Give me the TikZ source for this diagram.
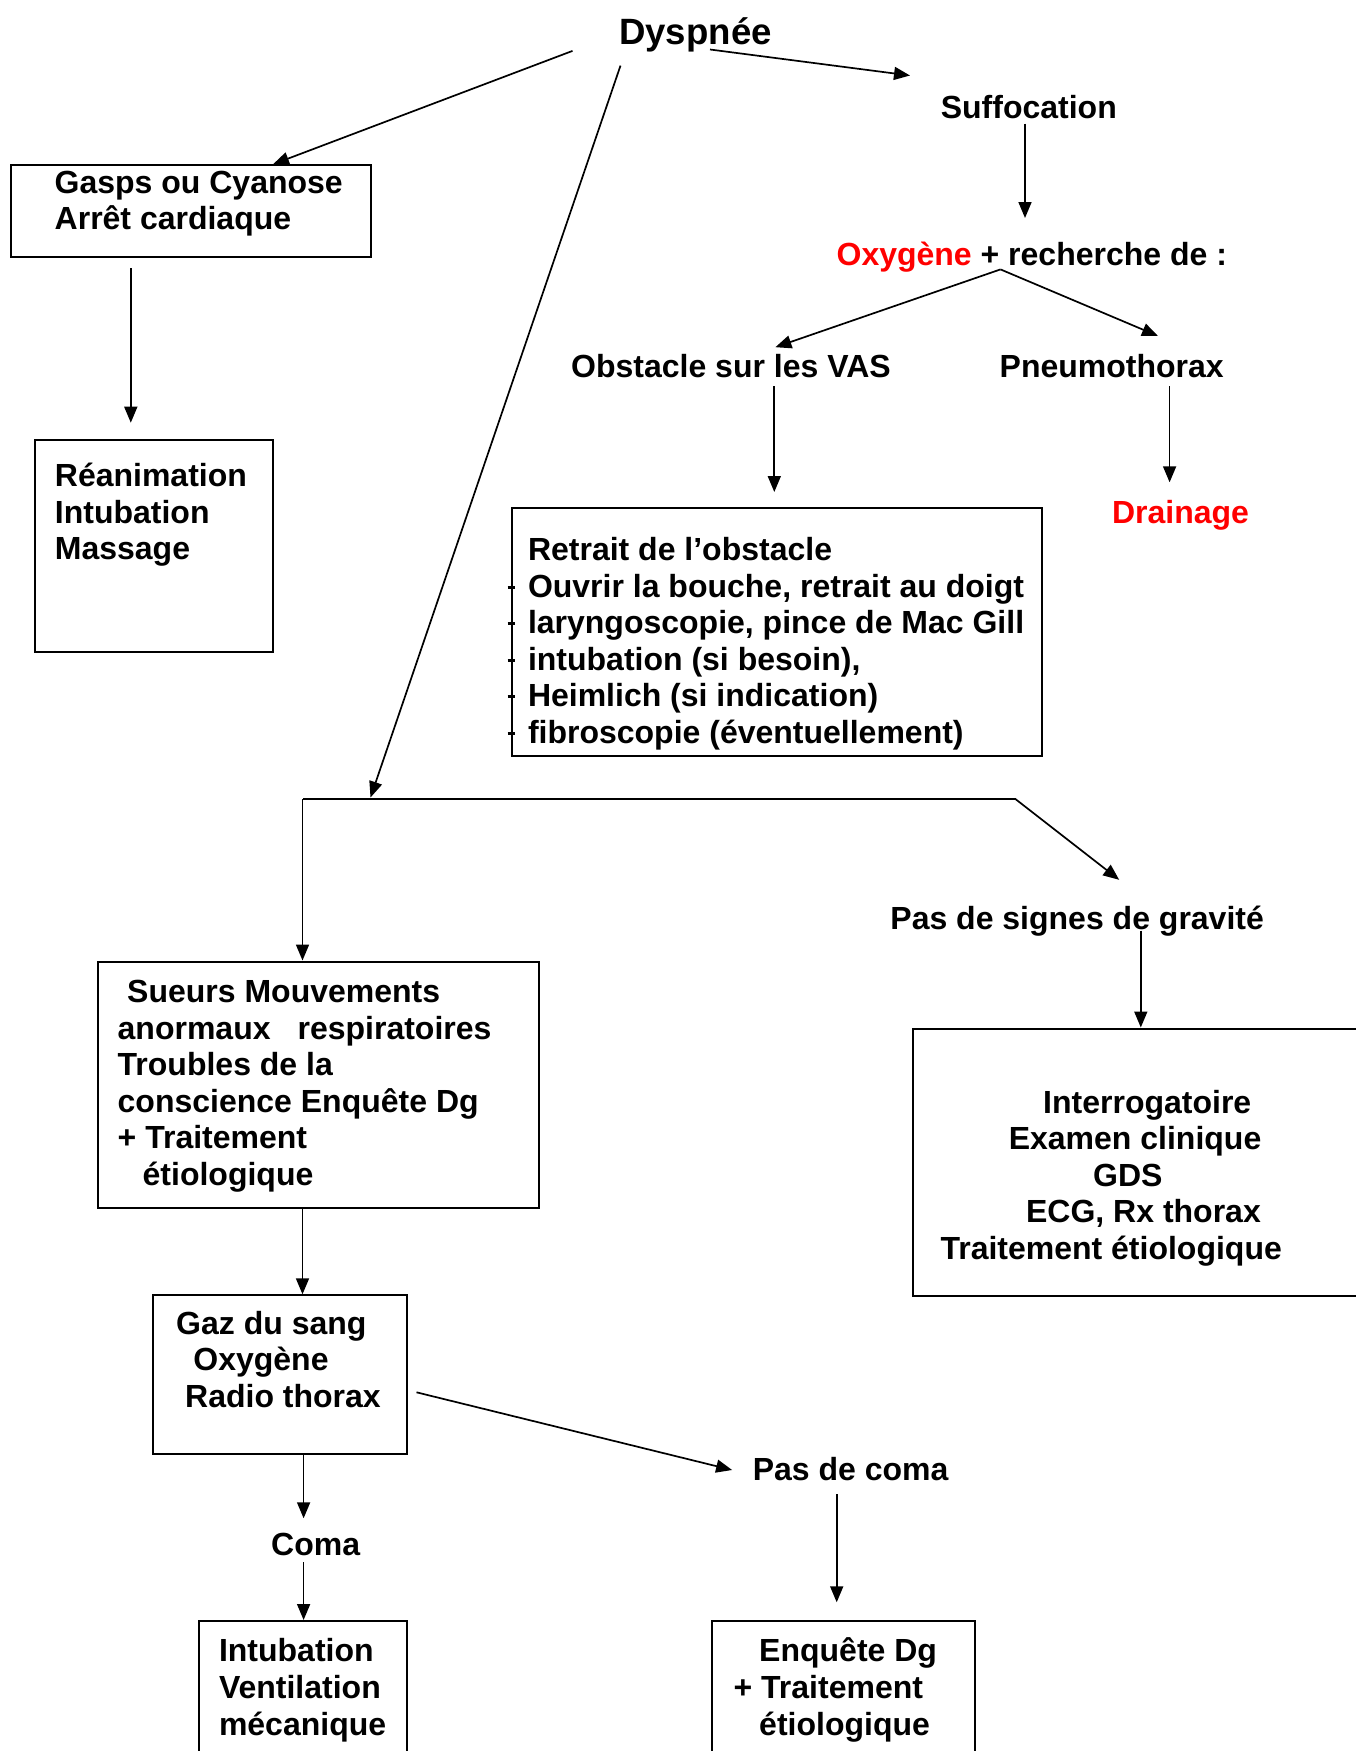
\documentclass[tikz,border=0pt]{standalone}
\usepackage{fontspec}
\setmainfont{Liberation Sans}
\usetikzlibrary{arrows.meta}
\begin{document}
\begin{tikzpicture}[x=1pt,y=-1pt,
  txt/.style={anchor=base west,inner sep=0pt,font=\bfseries\fontsize{32}{36.6}\selectfont,align=left},
  boxn/.style={draw,line width=2pt,inner sep=0pt,anchor=north west},
  conn/.style={line width=1.7pt},
  arr/.style={conn,-{Triangle[length=16pt,width=13pt]}},
  tick/.style={line width=3pt}]
\useasboundingbox (0,0) rectangle (1355,1751);
\fill[white] (0,0) rectangle (1355,1751);

% ---- boxes ----
\node[boxn,minimum width=360pt,minimum height=92pt] (gasps) at (9.8,164.3) {};
\node[boxn,minimum width=238pt,minimum height=212pt] (reanim) at (33.5,439) {};
\node[boxn,minimum width=530pt,minimum height=248pt] (retrait) at (511,507) {};
\node[boxn,minimum width=441pt,minimum height=246pt] (sueurs) at (96.8,960.5) {};
\node[boxn,minimum width=460pt,minimum height=267pt] (interro) at (911.8,1027.5) {};
\node[boxn,minimum width=254.5pt,minimum height=158.4pt] (gaz) at (151.8,1294.3) {};
\node[boxn,minimum width=208pt,minimum height=150pt] (intub) at (198.3,1620) {};
\node[boxn,minimum width=263pt,minimum height=150pt] (enquete) at (711.1,1620) {};

% ---- texts (multi-line nodes: anchor = baseline of last line) ----
\node[txt,font=\bfseries\fontsize{36.6}{40}\selectfont] (dysp) at (619,44.8) {Dyspnée};
\node[txt] (suff) at (940.6,118.5) {Suffocation};
\node[txt] (oxy) at (836.4,265) {\textcolor{red}{Oxygène} + recherche de :};
\node[txt] (obst) at (571,377.4) {Obstacle sur les VAS};
\node[txt] (pneumo) at (999.5,377.4) {Pneumothorax};
\node[txt,text=red] (drain) at (1111.8,523.5) {Drainage};
\node[txt] (gaspst) at (54.5,229.9) {Gasps ou Cyanose\\Arrêt cardiaque};
\node[txt] (reanimt) at (54.7,559.8) {Réanimation\\Intubation\\Massage};
\node[txt] (retraitt) at (527.8,743.5) {Retrait de l’obstacle\\Ouvrir la bouche, retrait au doigt\\laryngoscopie, pince de Mac Gill\\intubation (si besoin),\\Heimlich (si indication)\\fibroscopie (éventuellement)};
\node[txt] (pasgrav) at (890.2,929) {Pas de signes de gravité};
\node[txt] (sueurst) at (117.5,1185.5) {\hspace*{9.5pt}Sueurs Mouvements\\anormaux\hspace*{27pt}respiratoires\\Troubles de la\\conscience Enquête Dg\\+ Traitement\\\hspace*{25pt}étiologique};
\node[txt] (interrot) at (940.3,1259.4) {\hspace*{102.7pt}Interrogatoire\\\hspace*{68.3pt}Examen clinique\\\hspace*{152.7pt}GDS\\\hspace*{85.6pt}ECG, Rx thorax\\Traitement étiologique};
\node[txt] (gazt) at (176,1407.5) {Gaz du sang\\\hspace*{17.2pt}Oxygène\\\hspace*{9pt}Radio thorax};
\node[txt] (pascoma) at (752.6,1480.8) {Pas de coma};
\node[txt] (coma) at (271,1555) {Coma};
\node[txt] (intubt) at (218.8,1735) {Intubation\\Ventilation\\mécanique};
\node[txt] (enquetet) at (733.4,1735) {\hspace*{25.6pt}Enquête Dg\\+ Traitement\\\hspace*{25.6pt}étiologique};

% ---- bullet ticks on retrait box ----
\foreach \yy in {597,633.6,670.2,706.8,743.4} \draw[tick] (507.5,\yy-10) -- (514.5,\yy-10);

% ---- connector coordinates ----
\coordinate (d1) at (572.5,50.9);
\coordinate (g0) at (273,164.3);
\coordinate (d2) at (620.5,65.6);
\coordinate (d3) at (710,49.5);
\coordinate (s1) at (910,75.5);
\coordinate (s2) at (1025,123.5);
\coordinate (s3) at (1025,218);
\coordinate (br) at (1000.5,269.4);
\coordinate (o1) at (775.4,347.2);
\coordinate (p1) at (1158,336);
\coordinate (ob1) at (774.3,386);
\coordinate (ob2) at (774.3,492);
\coordinate (pn1) at (1169.6,386);
\coordinate (pn2) at (1169.6,482.3);
\coordinate (g1) at (130.8,268.3);
\coordinate (g2) at (130.8,422.7);
\coordinate (jl) at (302.5,799.1);
\coordinate (jt) at (370.5,797.5);
\coordinate (jr) at (1015.5,799.1);
\coordinate (pg1) at (1119.2,879.8);
\coordinate (pg2) at (1140.8,930.6);
\coordinate (gz1) at (416.5,1392.3);
\coordinate (pc1) at (732.1,1470);
\coordinate (pc2) at (836.7,1494);
\coordinate (pc3) at (836.7,1602.3);
\coordinate (cm0) at (303.6,1518.3);
\coordinate (cm1) at (303.6,1562.3);

% ---- connectors ----
\draw[arr] (d1) -- (g0);
\draw[arr] (d2) -- (jt);
\draw[arr] (d3) -- (s1);
\draw[arr] (s2) -- (s3);
\draw[arr] (br) -- (o1);
\draw[arr] (br) -- (p1);
\draw[arr] (ob1) -- (ob2);
\draw[arr] (pn1) -- (pn2);
\draw[arr] (g1) -- (g2);
\draw[line width=2.2pt] (jr) -- (jl);
\draw[arr] (jl) -- (sueurs.north -| jl);
\draw[arr] (jr) -- (pg1);
\draw[arr] (pg2) -- (interro.north -| pg2);
\draw[arr] (sueurs.south -| jl) -- (gaz.north -| jl);
\draw[arr] (gz1) -- (pc1);
\draw[arr] (pc2) -- (pc3);
\draw[arr] (gaz.south -| cm0) -- (cm0);
\draw[arr] (cm1) -- (intub.north -| cm1);
\end{tikzpicture}
\end{document}
